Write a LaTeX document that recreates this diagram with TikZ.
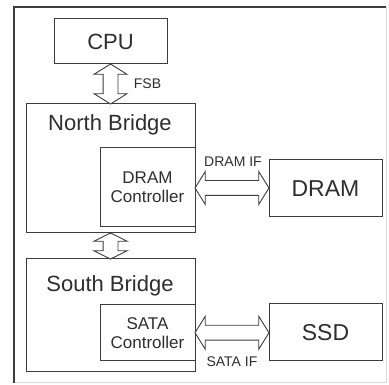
\documentclass[tikz,border=0pt]{standalone}
\usepackage{fontspec}
\setmainfont{Liberation Sans}
\usetikzlibrary{calc}
\usetikzlibrary{positioning}
\usetikzlibrary{shapes.arrows}
\definecolor{linegray}{HTML}{3C3C3C}
\definecolor{textgray}{HTML}{2E2E2E}
\definecolor{shadegray}{HTML}{DADADA}

\tikzset{
  box/.style={draw=linegray, line width=1pt, fill=white, inner sep=0pt, text=textgray},
  bus/.style={shape=double arrow, draw=linegray, line width=0.9pt, fill=white,
    inner sep=7pt, minimum width=32pt, double arrow head extend=9pt},
  buslabel/.style={text=textgray, inner sep=0pt, font=\fontsize{14}{16}\selectfont}
}

\begin{document}
\begin{tikzpicture}[x=1pt, y=-1pt]
		\useasboundingbox (0,0) rectangle (389,385);

		% frame
		\draw[shadegray, line width=1pt] (386,7) -- (386,383) -- (14,383);
		\draw[linegray, line width=2pt] (14,383) -- (14,7) -- (386,7);

		\node[box, minimum width=113pt, minimum height=45pt, font=\fontsize{22}{26}\selectfont] (cpu) at (110.5,41.5) {CPU};

		\node[box, minimum width=169pt, minimum height=129pt] (north) at (110.5,168.5) {};
		\node[text=textgray, inner sep=0pt, font=\fontsize{22}{26}\selectfont] (northlbl) at (110,125) {North Bridge};
		\node[box, minimum width=95pt, minimum height=79pt, align=center, font=\fontsize{17}{19}\selectfont] (dramctl) at (147.5,187.5) {DRAM\\Controller};

		\node[box, minimum width=169pt, minimum height=113pt] (south) at (110.5,315.5) {};
		\node[text=textgray, inner sep=0pt, font=\fontsize{22}{26}\selectfont] (southlbl) at (110,286) {South Bridge};
		\node[box, minimum width=95pt, minimum height=56pt, align=center, font=\fontsize{17}{19}\selectfont] (satactl) at (147.5,333) {SATA\\Controller};

		\node[box, minimum width=113pt, minimum height=57pt, font=\fontsize{23}{27}\selectfont] (dram) at (325.5,188.5) {DRAM};
		\node[box, minimum width=113pt, minimum height=57pt, font=\fontsize{23}{27}\selectfont] (ssd) at (325.5,332.5) {SSD};

		% buses
		\node[bus, rotate=90, minimum height=40pt, double arrow tip angle=116] (fsb) at ($(cpu.south)!0.5!(north.north)$) {};
		\node[buslabel] (fsblbl) at (147.5,84) {FSB};
		\node[bus, rotate=90, minimum height=26pt, double arrow tip angle=127] (nsbus) at ($(north.south)!0.5!(south.north)$) {};
		\node[bus, minimum height=74pt, double arrow tip angle=116] (dramif) at ($(dramctl.east)!0.5!(dram.west)$) {};
		\node[buslabel] (dramiflbl) at (233,162) {DRAM IF};
		\node[bus, minimum height=74pt, double arrow tip angle=116] (sataif) at ($(satactl.east)!0.5!(ssd.west)$) {};
		\node[buslabel] (sataiflbl) at (232,362) {SATA IF};
	\end{tikzpicture}
\end{document}
